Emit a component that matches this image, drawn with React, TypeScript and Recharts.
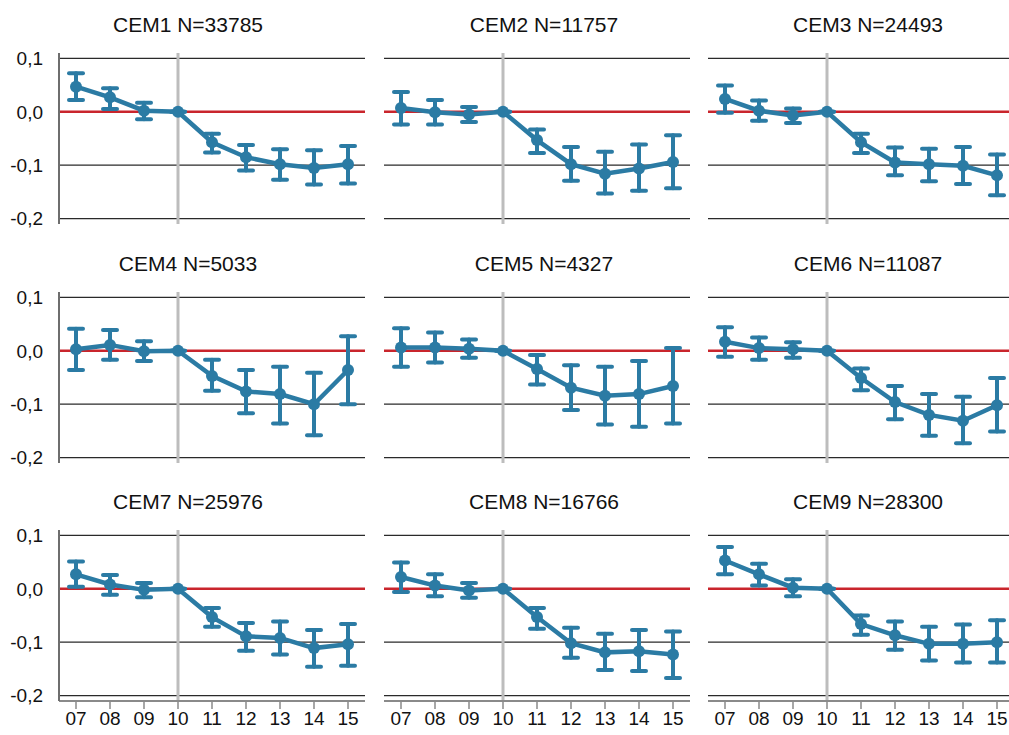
import { LineChart, Line, XAxis, YAxis, ErrorBar, ReferenceLine } from "recharts";

const years = ["07", "08", "09", "10", "11", "12", "13", "14", "15"];
const panelTitles = [
  "CEM1 N=33785",
  "CEM2 N=11757",
  "CEM3 N=24493",
  "CEM4 N=5033",
  "CEM5 N=4327",
  "CEM6 N=11087",
  "CEM7 N=25976",
  "CEM8 N=16766",
  "CEM9 N=28300",
];
const yTicks = [0.1, 0, -0.1, -0.2];

// point estimates and 95% interval bounds
const cem1Est = [0.047, 0.027, 0.002, 0, -0.057, -0.085, -0.098, -0.105, -0.098];
const cem1Lo = [0.022, 0.005, -0.014, 0, -0.076, -0.11, -0.127, -0.136, -0.134];
const cem1Hi = [0.072, 0.044, 0.017, 0, -0.041, -0.062, -0.07, -0.072, -0.064];

const cem2Est = [0.007, -0.001, -0.005, 0, -0.053, -0.098, -0.116, -0.106, -0.094];
const cem2Lo = [-0.024, -0.024, -0.019, 0, -0.077, -0.129, -0.153, -0.148, -0.143];
const cem2Hi = [0.037, 0.022, 0.009, 0, -0.033, -0.066, -0.075, -0.061, -0.044];

const cem3Est = [0.024, 0.002, -0.007, 0, -0.057, -0.095, -0.098, -0.101, -0.119];
const cem3Lo = [-0.002, -0.017, -0.021, 0, -0.077, -0.119, -0.13, -0.135, -0.156];
const cem3Hi = [0.049, 0.021, 0.006, 0, -0.041, -0.067, -0.069, -0.066, -0.08];

const cem4Est = [0.003, 0.011, -0.001, 0, -0.047, -0.076, -0.081, -0.1, -0.036];
const cem4Lo = [-0.036, -0.017, -0.019, 0, -0.075, -0.117, -0.136, -0.158, -0.1];
const cem4Hi = [0.041, 0.039, 0.018, 0, -0.017, -0.036, -0.03, -0.041, 0.027];

const cem5Est = [0.006, 0.006, 0.004, 0, -0.034, -0.069, -0.084, -0.081, -0.066];
const cem5Lo = [-0.03, -0.022, -0.013, 0, -0.063, -0.111, -0.138, -0.142, -0.136];
const cem5Hi = [0.042, 0.034, 0.021, 0, -0.008, -0.027, -0.03, -0.019, 0.005];

const cem6Est = [0.017, 0.005, 0.003, 0, -0.051, -0.096, -0.12, -0.131, -0.102];
const cem6Lo = [-0.011, -0.017, -0.013, 0, -0.074, -0.128, -0.159, -0.173, -0.151];
const cem6Hi = [0.044, 0.025, 0.016, 0, -0.033, -0.066, -0.081, -0.086, -0.051];

const cem7Est = [0.027, 0.008, -0.002, 0, -0.053, -0.089, -0.092, -0.111, -0.104];
const cem7Lo = [0.004, -0.011, -0.016, 0, -0.071, -0.116, -0.123, -0.146, -0.144];
const cem7Hi = [0.051, 0.026, 0.011, 0, -0.036, -0.064, -0.061, -0.077, -0.066];

const cem8Est = [0.022, 0.006, -0.003, 0, -0.053, -0.102, -0.119, -0.117, -0.123];
const cem8Lo = [-0.006, -0.014, -0.017, 0, -0.075, -0.129, -0.152, -0.154, -0.167];
const cem8Hi = [0.049, 0.027, 0.011, 0, -0.036, -0.073, -0.084, -0.077, -0.08];

const cem9Est = [0.053, 0.027, 0.002, 0, -0.066, -0.087, -0.103, -0.103, -0.1];
const cem9Lo = [0.027, 0.006, -0.014, 0, -0.086, -0.114, -0.134, -0.138, -0.138];
const cem9Hi = [0.078, 0.047, 0.018, 0, -0.05, -0.061, -0.071, -0.067, -0.059];

const panels = [
  [cem1Est, cem1Lo, cem1Hi],
  [cem2Est, cem2Lo, cem2Hi],
  [cem3Est, cem3Lo, cem3Hi],
  [cem4Est, cem4Lo, cem4Hi],
  [cem5Est, cem5Lo, cem5Hi],
  [cem6Est, cem6Lo, cem6Hi],
  [cem7Est, cem7Lo, cem7Hi],
  [cem8Est, cem8Lo, cem8Hi],
  [cem9Est, cem9Lo, cem9Hi],
];

const BLUE = "#2b7ba4";
const RED = "#c9252c";
const FONT = "'Liberation Sans', Arial, sans-serif";

const colPlotLeft = [59, 384, 708];
const rowPlotTop = [53, 292, 530];
const titleCenter = [188, 544, 868];
const PLOT_W = 306;
const PLOT_H = 171;
const AXIS_W = 60;

const fmt = (v: number) => v.toFixed(1).replace(".", ",");

function Panel({ idx }: { idx: number }) {
  const row = Math.floor(idx / 3);
  const col = idx % 3;
  const [est, lo, hi] = panels[idx];
  const data = years.map((y, i) => ({
    year: y,
    est: est[i],
    err: [est[i] - lo[i], hi[i] - est[i]],
  }));
  const bottom = row === 2;
  const height = 5 + PLOT_H + (bottom ? 40 : 5);

  return (
    <>
      <div
        style={{
          position: "absolute",
          left: titleCenter[col],
          top: rowPlotTop[row] - 40,
          transform: "translateX(-50%)",
          fontFamily: FONT,
          fontSize: 21,
          lineHeight: "24px",
          color: "#111",
          whiteSpace: "nowrap",
        }}
      >
        {panelTitles[idx]}
      </div>
      <div
        style={{
          position: "absolute",
          left: colPlotLeft[col] - AXIS_W,
          top: rowPlotTop[row] - 5,
        }}
      >
        <LineChart
          width={AXIS_W + PLOT_W + 5}
          height={height}
          data={data}
          margin={{ top: 5, right: 5, left: 0, bottom: bottom ? 0 : 5 }}
        >
          <XAxis
            dataKey="year"
            hide={!bottom}
            height={40}
            padding={{ left: 17, right: 17 }}
            axisLine={{ stroke: "#8a8a8a", strokeWidth: 2 }}
            tickLine={{ stroke: "#8a8a8a", strokeWidth: 1.5 }}
            tickSize={8}
            tickMargin={3}
            tick={{ fill: "#111", fontSize: 19, fontFamily: FONT }}
            interval={0}
          />
          <YAxis
            type="number"
            domain={[-0.21, 0.11]}
            ticks={yTicks}
            interval={0}
            width={AXIS_W}
            tickFormatter={fmt}
            tickLine={false}
            tickSize={6}
            tickMargin={10}
            axisLine={col === 0 ? { stroke: "#6e6e6e", strokeWidth: 2 } : false}
            tick={col === 0 ? { fill: "#111", fontSize: 19, fontFamily: FONT } : false}
          />
          {yTicks
            .filter((t) => t !== 0)
            .map((t) => (
              <ReferenceLine key={t} y={t} stroke="#2a2a2a" strokeWidth={1.2} />
            ))}
          <ReferenceLine y={0} stroke={RED} strokeWidth={2.5} />
          <ReferenceLine x="10" stroke="#bdbdbd" strokeWidth={3} />
          <Line
            dataKey="est"
            stroke={BLUE}
            strokeWidth={4.5}
            dot={{ r: 6, fill: BLUE, stroke: BLUE, strokeWidth: 0 }}
            activeDot={false}
            isAnimationActive={false}
          >
            <ErrorBar
              dataKey="err"
              direction="y"
              width={7}
              stroke={BLUE}
              strokeWidth={4}
              strokeLinecap="round"
              isAnimationActive={false}
            />
          </Line>
        </LineChart>
      </div>
    </>
  );
}

export default function App() {
  return (
    <div
      style={{
        position: "fixed",
        left: 0,
        top: 0,
        width: 1009,
        height: 735,
        overflow: "hidden",
        background: "#fff",
      }}
    >
      {panelTitles.map((_, i) => (
        <Panel key={i} idx={i} />
      ))}
    </div>
  );
}
